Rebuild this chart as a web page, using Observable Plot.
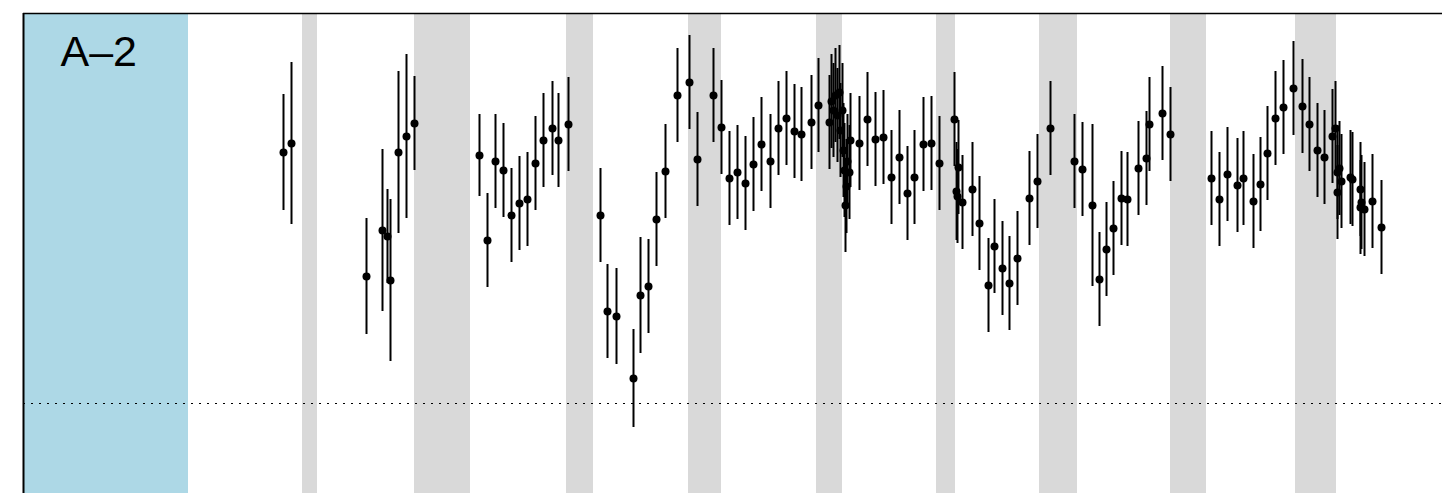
<!DOCTYPE html>
<html><head><meta charset="utf-8">
<script src="https://cdn.jsdelivr.net/npm/d3@7"></script>
<script src="https://cdn.jsdelivr.net/npm/@observablehq/plot@0.6"></script>
<style>body{margin:0;background:#fff}#chart svg{display:block}</style>
</head><body><div id="chart"></div>
<script>
const panelLabel = "A–2";
// time positions of each estimate
const t = [
260,268,343,359,364,367,375,383,391,
456,464,472,480,488,496,504,512,520,529,535,545,
577,584,593,610,617,625,633,642,654,666,674,690,698,706,714,722,730,738,747,755,763,771,778,788,795,
806,808,810,812,814,816,817,819,820,821,822,823,824,826,827,
836,844,852,860,868,876,884,891,900,908,916,
931,933,934,935,939,949,956,965,971,979,986,994,1006,1014,1027,
1051,1059,1069,1076,1083,1090,1098,1104,1115,1123,1126,1139,1147,
1188,1196,1204,1214,1220,1230,1237,1244,1252,1260,1270,1279,1286,1294,1301,1309,1312,1314,1316,1314,1318,1327,1329,1337,1338,1337,1341,1349,1358];
// estimates
const value = [
251,260,127,173,167,123,251,267,280,
248,163,242,233,188,200,204,240,263,275,263,279,
188,92,87,25,108,117,184,232,308,321,244,308,276,225,231,220,239,259,242,275,285,272,269,281,298,
281,302,293,308,288,311,273,293,253,233,198,217,242,231,263,
260,284,264,266,226,246,210,226,259,260,240,
284,212,207,236,201,214,180,118,157,135,120,145,205,222,275,
242,234,198,124,154,175,205,204,235,245,279,290,269,
225,204,229,218,225,202,219,250,285,296,315,297,279,253,246,267,275,231,235,211,222,226,224,214,201,196,194,202,176];
// half-width of each interval
const err = [
58,81,58,81,47,81,81,82,47,
41,47,47,47,47,47,47,47,47,47,47,47,
47,47,48,49,58,47,47,47,47,47,47,47,47,47,47,47,47,47,47,47,47,47,47,47,47,
47,47,47,47,47,47,47,47,47,47,47,47,47,47,47,
47,47,47,47,47,47,47,47,47,47,47,
47,49,47,47,47,47,47,47,47,47,47,47,47,47,47,
47,47,81,47,47,47,47,47,47,47,47,47,47,
47,47,47,47,47,47,47,47,47,47,47,47,47,47,47,47,47,47,47,47,47,47,47,47,47,47,47,47,47];
const bandStart = [279, 391, 543, 665, 793, 913, 1016, 1147, 1272];
const bandEnd   = [294, 447, 570, 698, 819, 932, 1054, 1183, 1313];
const labelSpan = [0, 165];
const xDomain = [0, 1419];
const yDomain = [-90, 390];
const baseline = 0;

const points = t.map((d, i) => ({t: d, v: value[i], lo: value[i] - err[i], hi: value[i] + err[i]}));
const bands = bandStart.map((s, i) => ({x1: s, x2: bandEnd[i]}));

const chart = Plot.plot({
  width: 1442, height: 493,
  marginLeft: 23, marginTop: 13, marginRight: 0, marginBottom: 0,
  x: {domain: xDomain, axis: null},
  y: {domain: yDomain, axis: null},
  marks: [
    Plot.rect([labelSpan], {x1: d => d[0], x2: d => d[1], fill: "#ADD8E6"}),
    Plot.rect(bands, {x1: "x1", x2: "x2", fill: "#D9D9D9"}),
    Plot.ruleY([baseline], {stroke: "#000", strokeWidth: 1, strokeDasharray: "2,6"}),
    Plot.ruleX(points, {x: "t", y1: "lo", y2: "hi", stroke: "#000", strokeWidth: 2}),
    Plot.dot(points, {x: "t", y: "v", r: 4, fill: "#000", stroke: "none"}),
    Plot.ruleY([yDomain[1]], {stroke: "#000", strokeWidth: 1.5}),
    Plot.ruleX([xDomain[0]], {stroke: "#000", strokeWidth: 2}),
    Plot.text([panelLabel], {text: d => d, frameAnchor: "top-left", dx: 37, dy: 22, lineAnchor: "top",
      textAnchor: "start", fontSize: 43, fontFamily: "'Liberation Sans', Arial, sans-serif", fill: "#000"})
  ]
});
document.getElementById("chart").appendChild(chart);
</script>
</body></html>
